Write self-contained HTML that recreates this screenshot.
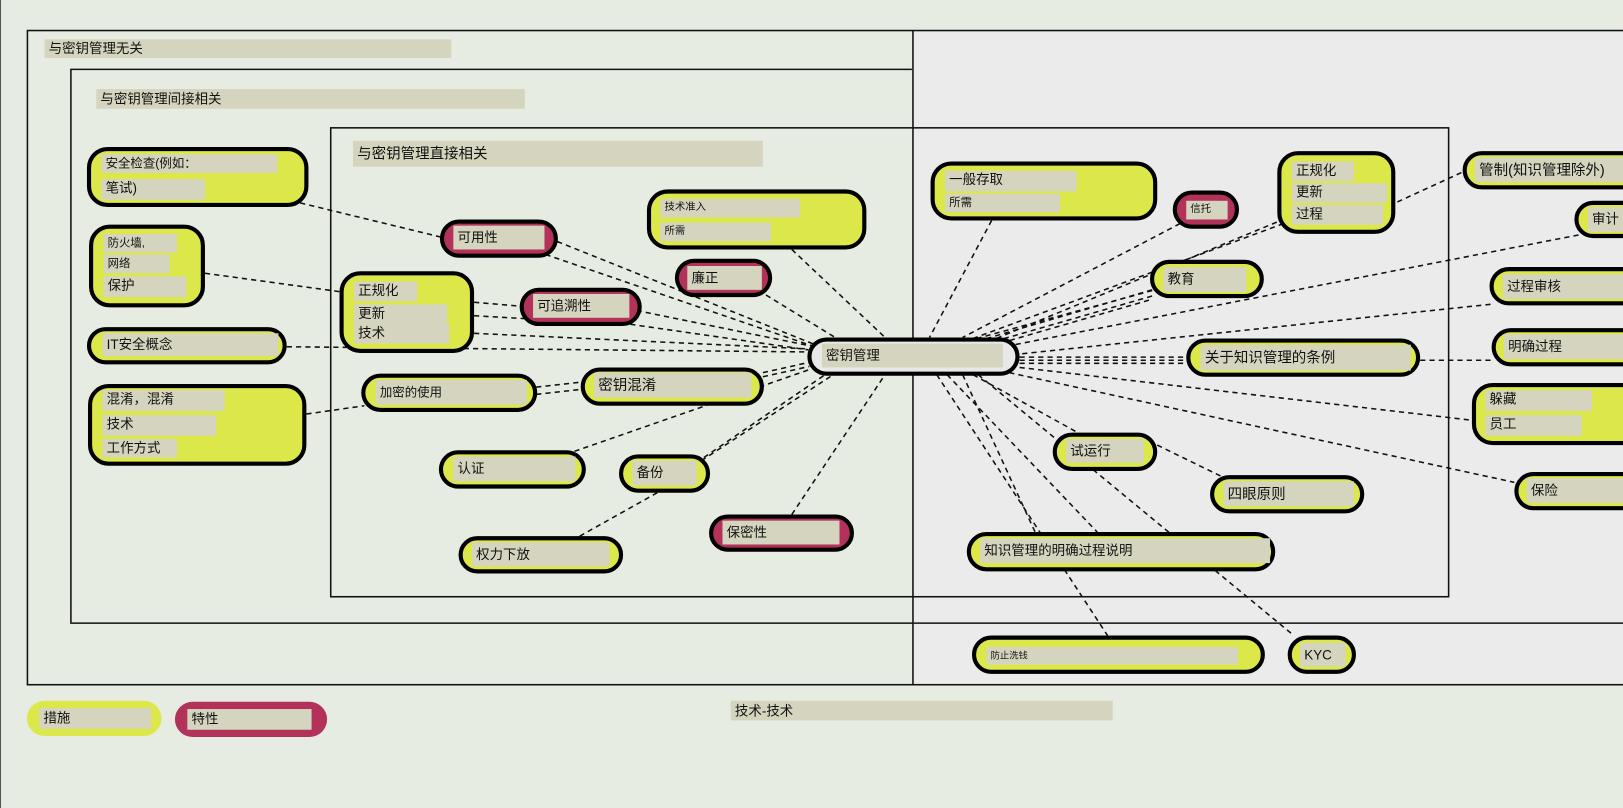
<!DOCTYPE html>
<html><head><meta charset="utf-8">
<style>
html,body{margin:0;padding:0;}
body{width:1623px;height:781px;position:relative;overflow:hidden;background:#e7ece2;font-family:"Liberation Sans","Noto Sans CJK SC",sans-serif;color:#111;}
#w{position:absolute;left:0;top:0;width:1568px;height:755px;transform:scale(1.0351);transform-origin:0 0;}
.a{position:absolute;box-sizing:border-box;}
.n{position:absolute;box-sizing:border-box;border:4px solid #000;border-radius:20px;background:#dce84a;}
.m{background:#b3325a;}
.l{position:absolute;background:#d5d5bf;font-size:13px;line-height:18px;padding-left:4px;box-sizing:border-box;white-space:nowrap;overflow:hidden;}
.hd{position:absolute;background:#d5d5bf;font-size:13px;padding-left:4px;box-sizing:border-box;}
</style></head><body>
<div id="w">
<div class="a" style="left:0;top:0;width:1px;height:781px;background:#555"></div>
<div class="a" style="left:882px;top:29px;width:741px;height:633px;background:#ebebeb"></div>
<svg class="a" style="left:0;top:0" width="1623" height="781">
<g fill="none" stroke="#111" stroke-width="1.5">
<rect x="26.5" y="29.5" width="1620" height="632"/>
<line x1="882" y1="29" x2="882" y2="662"/>
<polyline points="881,67 68.5,67 68.5,602 1623,602"/>
<rect x="319.5" y="123.5" width="1080" height="453"/>
</g>
<g stroke="#111" stroke-width="1.5" stroke-dasharray="5,4" fill="none">
<line x1="290" y1="196" x2="430" y2="230"/>
<line x1="198" y1="264" x2="330" y2="282"/>
<line x1="277" y1="335" x2="780" y2="340"/>
<line x1="296" y1="400" x2="352" y2="392"/>
<line x1="510" y1="240" x2="790" y2="336"/>
<line x1="530" y1="230" x2="785" y2="332"/>
<line x1="765" y1="241" x2="855" y2="326"/>
<line x1="740" y1="285" x2="810" y2="328"/>
<line x1="458" y1="292" x2="505" y2="296"/>
<line x1="458" y1="305" x2="510" y2="308"/>
<line x1="615" y1="300" x2="782" y2="334"/>
<line x1="600" y1="312" x2="781" y2="338"/>
<line x1="458" y1="322" x2="780" y2="337"/>
<line x1="518" y1="374" x2="563" y2="369"/>
<line x1="518" y1="381" x2="563" y2="376"/>
<line x1="737" y1="360" x2="782" y2="350"/>
<line x1="737" y1="364" x2="782" y2="354"/>
<line x1="555" y1="436" x2="785" y2="356"/>
<line x1="680" y1="442" x2="800" y2="360"/>
<line x1="670" y1="450" x2="805" y2="362"/>
<line x1="560" y1="518" x2="635" y2="476"/>
<line x1="765" y1="497" x2="855" y2="362"/>
<line x1="958" y1="213" x2="898" y2="326"/>
<line x1="1140" y1="216" x2="930" y2="326"/>
<line x1="1240" y1="216" x2="940" y2="327"/>
<line x1="1113" y1="280" x2="950" y2="328"/>
<line x1="1113" y1="286" x2="960" y2="330"/>
<line x1="1110" y1="290" x2="965" y2="332"/>
<line x1="1200" y1="257" x2="940" y2="328"/>
<line x1="1300" y1="187" x2="960" y2="328"/>
<line x1="1420" y1="163" x2="1348" y2="196"/>
<line x1="1525" y1="227" x2="975" y2="334"/>
<line x1="1440" y1="294" x2="985" y2="342"/>
<line x1="985" y1="345" x2="1146" y2="345"/>
<line x1="985" y1="348" x2="1146" y2="348"/>
<line x1="985" y1="351" x2="1146" y2="351"/>
<line x1="1372" y1="348" x2="1441" y2="348"/>
<line x1="985" y1="355" x2="1422" y2="406"/>
<line x1="975" y1="360" x2="1463" y2="466"/>
<line x1="940" y1="362" x2="1045" y2="420"/>
<line x1="1118" y1="430" x2="1200" y2="470"/>
<line x1="930" y1="362" x2="1000" y2="514"/>
<line x1="915" y1="362" x2="1060" y2="514"/>
<line x1="905" y1="362" x2="1070" y2="614"/>
<line x1="945" y1="362" x2="1250" y2="614"/>
</g>
</svg>
<div class="hd" style="left:43px;top:38px;width:393px;height:18px;line-height:18px">与密钥管理无关</div>
<div class="hd" style="left:93px;top:86px;width:414px;height:19px;line-height:19px">与密钥管理间接相关</div>
<div class="hd" style="left:341px;top:136px;width:396px;height:25px;line-height:25px;font-size:14px">与密钥管理直接相关</div>

<div class="n" style="left:84px;top:142px;width:214px;height:58px"></div>
<div class="l" style="left:98px;top:149px;width:170px;font-size:12px">安全检查(例如：</div>
<div class="l" style="left:98px;top:173px;width:100px;height:20px">笔试)</div>

<div class="n" style="left:86px;top:217px;width:112px;height:80px"></div>
<div class="l" style="left:100px;top:226px;width:71px;font-size:11px">防火墙,</div>
<div class="l" style="left:100px;top:246px;width:64px;font-size:11px">网络</div>
<div class="l" style="left:100px;top:267px;width:80px;height:20px">保护</div>

<div class="n" style="left:84px;top:316px;width:193px;height:36px"></div>
<div class="l" style="left:99px;top:322px;width:170px;height:22px;line-height:22px">IT安全概念</div>

<div class="n" style="left:85px;top:371px;width:211px;height:79px"></div>
<div class="l" style="left:99px;top:377px;width:118px;height:20px">混淆，混淆</div>
<div class="l" style="left:99px;top:401px;width:110px;height:20px">技术</div>
<div class="l" style="left:99px;top:424px;width:72px;height:18px">工作方式</div>

<div class="n m" style="left:425px;top:212px;width:114px;height:37px"></div>
<div class="l" style="left:438px;top:218px;width:88px;height:23px;line-height:23px">可用性</div>

<div class="n" style="left:625px;top:183px;width:212px;height:58px"></div>
<div class="l" style="left:638px;top:192px;width:135px;font-size:10px">技术准入</div>
<div class="l" style="left:638px;top:215px;width:107px;font-size:10px">所需</div>

<div class="n m" style="left:652px;top:250px;width:94px;height:37px"></div>
<div class="l" style="left:664px;top:257px;width:72px;height:23px;line-height:23px">廉正</div>

<div class="n" style="left:328px;top:262px;width:130px;height:79px"></div>
<div class="l" style="left:342px;top:272px;width:61px;height:19px">正规化</div>
<div class="l" style="left:342px;top:294px;width:90px;height:19px">更新</div>
<div class="l" style="left:342px;top:313px;width:92px;height:19px">技术</div>

<div class="n m" style="left:502px;top:278px;width:118px;height:37px"></div>
<div class="l" style="left:515px;top:284px;width:93px;height:23px;line-height:23px">可追溯性</div>

<div class="n" style="left:349px;top:361px;width:170px;height:37px"></div>
<div class="l" style="left:363px;top:367px;width:146px;height:24px;line-height:24px;font-size:12px">加密的使用</div>

<div class="n" style="left:561px;top:355px;width:177px;height:37px"></div>
<div class="l" style="left:574px;top:360px;width:152px;height:24px;line-height:24px;font-size:14px">密钥混淆</div>

<div class="n" style="left:424px;top:435px;width:142px;height:37px"></div>
<div class="l" style="left:438px;top:441px;width:118px;height:24px;line-height:24px">认证</div>

<div class="n" style="left:598px;top:439px;width:88px;height:37px"></div>
<div class="l" style="left:611px;top:445px;width:62px;height:24px;line-height:24px">备份</div>

<div class="n" style="left:443px;top:518px;width:159px;height:36px"></div>
<div class="l" style="left:456px;top:524px;width:133px;height:23px;line-height:23px">权力下放</div>

<div class="n m" style="left:685px;top:497px;width:140px;height:36px"></div>
<div class="l" style="left:698px;top:503px;width:113px;height:23px;line-height:23px">保密性</div>

<div class="n" style="left:780px;top:326px;width:205px;height:37px;background:#e8e8e8"></div>
<div class="l" style="left:794px;top:332px;width:175px;height:23px;line-height:23px">密钥管理</div>

<div class="n" style="left:899px;top:156px;width:219px;height:57px"></div>
<div class="l" style="left:913px;top:165px;width:127px;height:20px">一般存取</div>
<div class="l" style="left:913px;top:187px;width:111px;font-size:11px">所需</div>

<div class="n m" style="left:1133px;top:184px;width:64px;height:37px"></div>
<div class="l" style="left:1146px;top:194px;width:40px;font-size:10px">信托</div>

<div class="n" style="left:1234px;top:146px;width:114px;height:80px"></div>
<div class="l" style="left:1248px;top:156px;width:60px;height:19px">正规化</div>
<div class="l" style="left:1248px;top:177px;width:92px;height:19px">更新</div>
<div class="l" style="left:1248px;top:198px;width:88px;height:19px">过程</div>

<div class="n" style="left:1413px;top:146px;width:230px;height:37px"></div>
<div class="l" style="left:1425px;top:152px;width:200px;height:24px;line-height:24px;font-size:14px">管制(知识管理除外)</div>

<div class="n" style="left:1521px;top:194px;width:120px;height:36px"></div>
<div class="l" style="left:1534px;top:200px;width:100px;height:24px;line-height:24px">审计</div>

<div class="n" style="left:1111px;top:251px;width:110px;height:37px"></div>
<div class="l" style="left:1124px;top:258px;width:80px;height:24px;line-height:24px">教育</div>

<div class="n" style="left:1439px;top:258px;width:200px;height:37px"></div>
<div class="l" style="left:1452px;top:265px;width:150px;height:24px;line-height:24px">过程审核</div>

<div class="n" style="left:1146px;top:327px;width:226px;height:37px"></div>
<div class="l" style="left:1160px;top:333px;width:203px;height:25px;line-height:25px;font-size:14px">关于知识管理的条例</div>

<div class="n" style="left:1441px;top:317px;width:200px;height:37px"></div>
<div class="l" style="left:1453px;top:323px;width:150px;height:24px;line-height:24px">明确过程</div>

<div class="n" style="left:1422px;top:370px;width:220px;height:60px"></div>
<div class="l" style="left:1435px;top:377px;width:103px;height:20px">躲藏</div>
<div class="l" style="left:1435px;top:401px;width:93px;height:20px">员工</div>

<div class="n" style="left:1017px;top:418px;width:101px;height:37px"></div>
<div class="l" style="left:1030px;top:424px;width:75px;height:23px;line-height:23px">试运行</div>

<div class="n" style="left:1169px;top:459px;width:149px;height:37px"></div>
<div class="l" style="left:1182px;top:465px;width:126px;height:24px;line-height:24px;font-size:14px">四眼原则</div>

<div class="n" style="left:1463px;top:456px;width:180px;height:37px"></div>
<div class="l" style="left:1475px;top:462px;width:120px;height:24px;line-height:24px">保险</div>

<div class="n" style="left:934px;top:514px;width:298px;height:38px"></div>
<div class="l" style="left:947px;top:520px;width:280px;height:24px;line-height:24px">知识管理的明确过程说明</div>

<div class="n" style="left:939px;top:614px;width:283px;height:37px"></div>
<div class="l" style="left:953px;top:625px;width:243px;height:17px;line-height:17px;font-size:9px">防止洗钱</div>

<div class="n" style="left:1244px;top:614px;width:66px;height:37px"></div>
<div class="l" style="left:1256px;top:621px;width:44px;height:23px;line-height:23px">KYC</div>

<div class="a" style="left:26px;top:677px;width:130px;height:34px;border-radius:17px;background:#dce84a"></div>
<div class="l" style="left:38px;top:684px;width:108px;height:20px;line-height:20px">措施</div>
<div class="a" style="left:169px;top:678px;width:147px;height:34px;border-radius:17px;background:#b3325a"></div>
<div class="l" style="left:181px;top:685px;width:120px;height:20px;line-height:20px">特性</div>
<div class="hd" style="left:706px;top:677px;width:369px;height:19px;line-height:19px">技术-技术</div>
</div>
</body></html>
